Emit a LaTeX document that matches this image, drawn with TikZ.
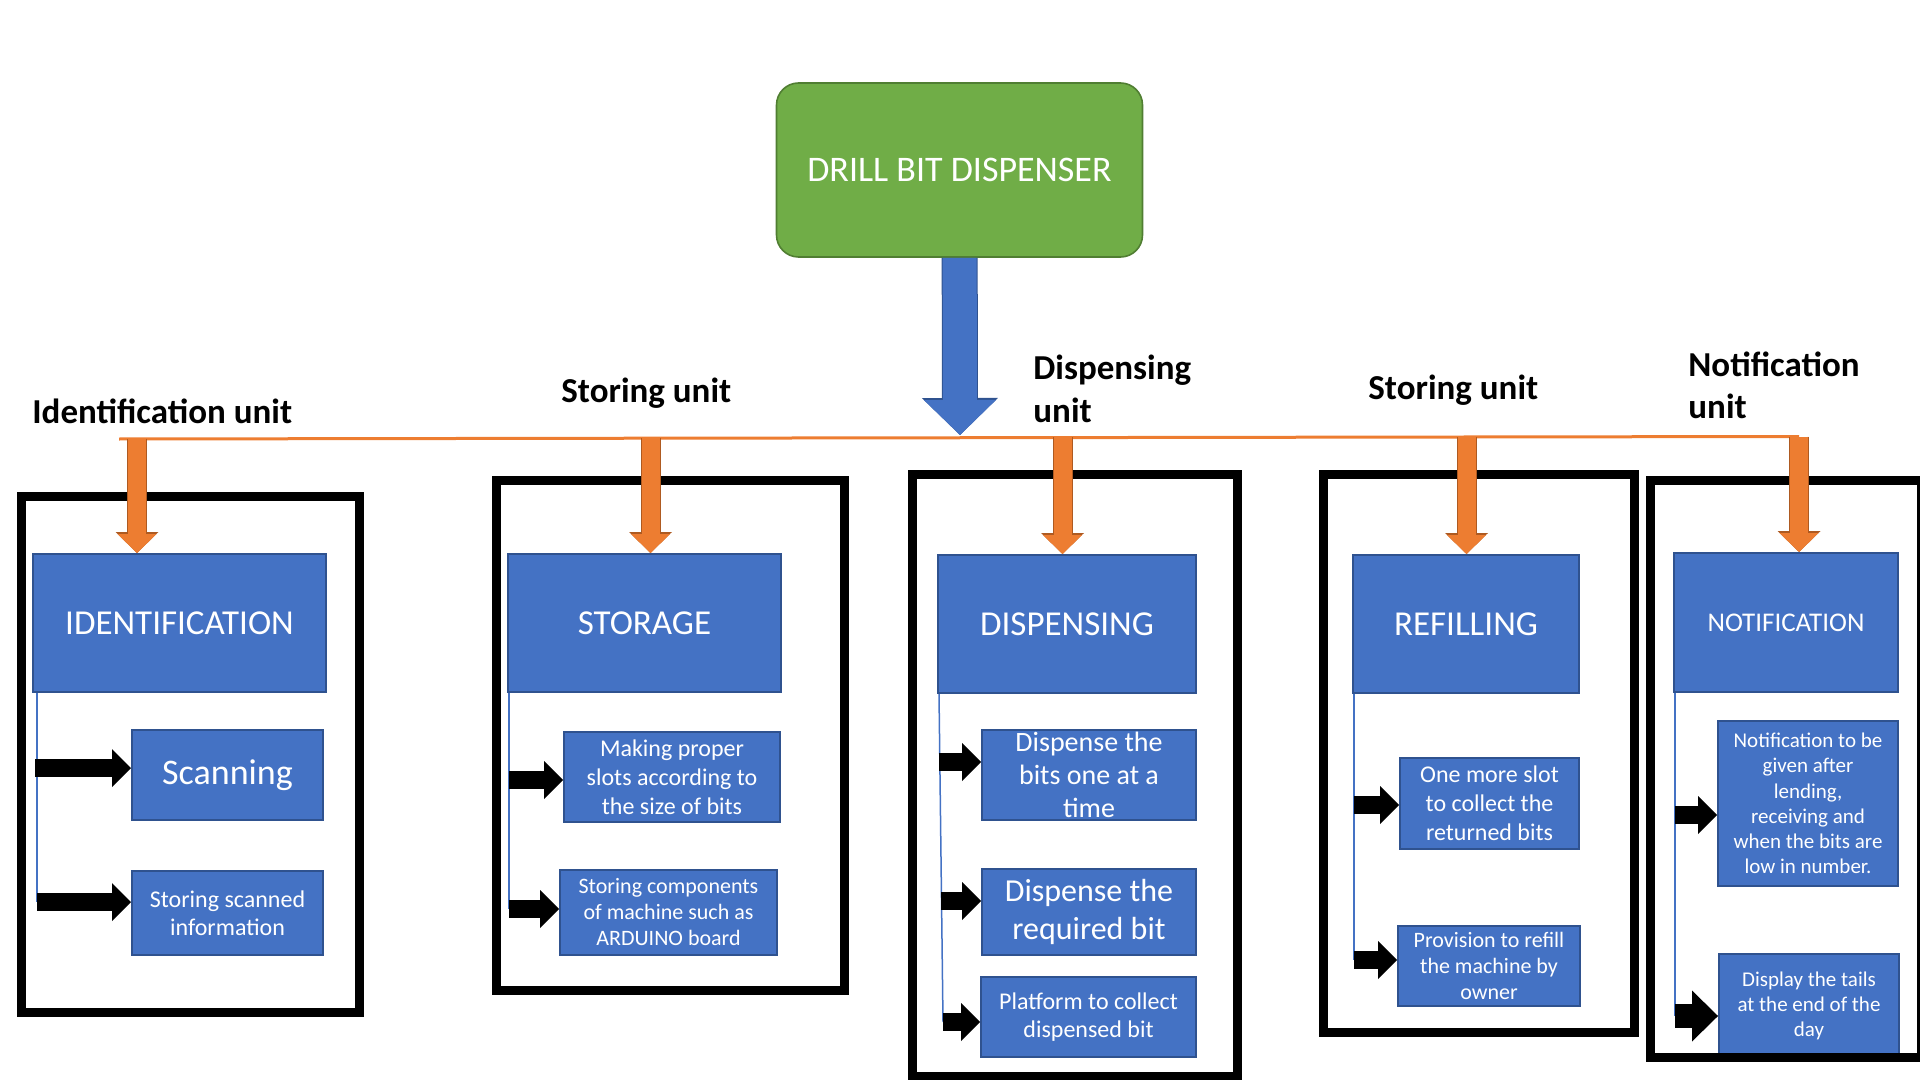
\documentclass[tikz,border=0pt]{standalone}
\usepackage{fontspec}
\setmainfont{Carlito}
\usetikzlibrary{arrows.meta,calc}

\definecolor{boxblue}{HTML}{4472C4}
\definecolor{boxedge}{HTML}{2F528F}
\definecolor{topgreen}{HTML}{70AD47}
\definecolor{topedge}{HTML}{507E32}
\definecolor{busorange}{HTML}{ED7D31}
\definecolor{busedge}{HTML}{AE5A21}

\tikzset{
	wh/.style 2 args={minimum width=#1*0.5pt, minimum height=#2*0.5pt},
	fs/.style 2 args={font=\fontsize{#1}{#2}\selectfont},
	unitbox/.style={draw=boxedge, fill=boxblue, line width=1pt, text=white, inner sep=0pt, align=center},
	hdrbox/.style={unitbox, fs={17.5}{21}},
	titlebox/.style={draw=topedge, fill=topgreen, line width=0.8pt, rounded corners=11pt, text=white, inner sep=0pt, fs={18}{22}},
	unitlabel/.style={font=\bfseries\fontsize{17.5}{21}\selectfont, inner sep=0pt, align=left, anchor=base west},
	unitframe/.style={draw=black, line width=4.5pt},
	stem/.style={draw=boxblue, line width=0.75pt},
	busline/.style={draw=busorange, line width=1.5pt},
	busarrow/.style={draw=busorange, line width=9pt, -{Triangle[width=19.5pt,length=9.5pt,line width=0pt]},
		preaction={draw=busedge, line width=10pt, -{Triangle[width=21.5pt,length=10.5pt,line width=0pt]}}},
	mainarrow/.style={draw=boxblue, line width=17pt, -{Triangle[width=36pt,length=17.5pt,line width=0pt]},
		preaction={draw=boxedge, line width=18pt, -{Triangle[width=38pt,length=18.5pt,line width=0pt]}}},
	pointer/.style={draw=black, line width=9pt, -{Triangle[width=19pt,length=9.5pt,line width=0pt]}},
	bigpointer/.style={draw=black, line width=12pt, -{Triangle[width=25.5pt,length=13pt,line width=0pt]}}
}

\begin{document}
\begin{tikzpicture}[x=0.5pt,y=-0.5pt]
	\useasboundingbox (0,0) rectangle (1920,1080);

	%title
	\node[titlebox, wh={366}{174}] (title) at (959.5,170) {DRILL BIT DISPENSER};

	%unit labels (base = last line)
	\node[unitlabel] (lident) at (32,423) {Identification unit};
	\node[unitlabel] (lstore) at (561,402) {Storing unit};
	\node[unitlabel] (ldisp) at (1033,422) {Dispensing\\unit};
	\node[unitlabel] (lrefill) at (1368,400) {Storing unit};
	\node[unitlabel] (lnotif) at (1688,418) {Notification\\unit};

	%unit headers
	\node[hdrbox, wh={293}{138}] (ident) at (179.5,623) {IDENTIFICATION};
	\node[hdrbox, wh={273}{138}] (storage) at (644.5,623) {STORAGE};
	\node[hdrbox, wh={258}{138}] (dispensing) at (1067,624) {DISPENSING};
	\node[hdrbox, wh={226}{138}] (refilling) at (1466,624) {REFILLING};
	\node[hdrbox, wh={224}{139}, fs={13.5}{16}] (notification) at (1786,622.5) {NOTIFICATION};

	%tasks
	\node[unitbox, wh={191}{90}, fs={18}{22}] (scan) at (227.5,775) {Scanning};
	\node[unitbox, wh={191}{84}, fs={12}{14}] (scanstore) at (227.5,913) {Storing scanned\\information};

	\node[unitbox, wh={216}{90}, fs={12}{14.5}] (slots) at (672,777) {Making proper\\slots according to\\the size of bits};
	\node[unitbox, wh={217}{85}, fs={11}{13}] (parts) at (668.5,912.5) {Storing components\\of machine such as\\ARDUINO board};

	\node[unitbox, wh={214}{90}, fs={14}{16.5}] (oneatatime) at (1089,775) {Dispense the\\bits one at a\\time};
	\node[unitbox, wh={214}{86}, fs={16}{19}] (required) at (1089,912) {Dispense the\\required bit};
	\node[unitbox, wh={215}{80}, fs={12}{14}] (platform) at (1088.5,1017) {Platform to collect\\dispensed bit};

	\node[unitbox, wh={179}{91}, fs={12}{14.5}] (extraslot) at (1489.5,803.5) {One more slot\\to collect the\\returned bits};
	\node[unitbox, wh={182}{80}, fs={11}{13}] (refill) at (1489,966) {Provision to refill\\the machine by\\owner};

	\node[unitbox, wh={180}{165}, fs={10.5}{12.6}] (alert) at (1808,803.5) {Notification to be\\given after\\lending,\\receiving and\\when the bits are\\low in number.};
	\node[unitbox, wh={180}{104}, fs={10.5}{12.5}] (tails) at (1809,1006) {Display the tails\\at the end of the\\day};

	%unit frames
	\draw[unitframe] (21.5,496.5) rectangle (359.5,1012.5);
	\draw[unitframe] (496.5,480.5) rectangle (844.5,990.5);
	\draw[unitframe] (912.5,474.5) rectangle (1237.5,1076);
	\draw[unitframe] (1323.5,474.5) rectangle (1634.5,1032.5);
	\draw[unitframe] (1650.5,480.5) rectangle (1921,1057.5);

	%bus
	\coordinate (busL) at (119,439);
	\coordinate (hub) at (960,435);
	\coordinate (b1) at (137,438.5);
	\coordinate (b2) at (650.5,437.5);
	\coordinate (b3) at (1062.5,437);
	\coordinate (b4) at (1466.5,436.5);
	\coordinate (b5) at (1799,436.5);
	\draw[busline] (busL) -- (b5);
	\draw[mainarrow] (title) -- (hub);

	\draw[busarrow] (b1) -- (b1 |- ident.north);
	\draw[busarrow] (b2) -- (b2 |- storage.north);
	\draw[busarrow] (b3) -- (b3 |- dispensing.north);
	\draw[busarrow] (b4) -- (b4 |- refilling.north);
	\draw[busarrow] (b5) -- (b5 |- notification.north);

	%pointers
	\coordinate (i1) at (35,768);
	\coordinate (i2) at (37,902);
	\draw[stem] (i2 |- ident.south) -- (i2);
	\draw[pointer] (i1) -- (i1 -| scan.west);
	\draw[pointer] (i2) -- (i2 -| scanstore.west);

	\coordinate (s1) at (509,780);
	\coordinate (s2) at (509,909);
	\draw[stem] (s2 |- storage.south) -- (s2);
	\draw[pointer] (s1) -- (s1 -| slots.west);
	\draw[pointer] (s2) -- (s2 -| parts.west);

	\coordinate (d1) at (939,762);
	\coordinate (d2) at (941,901);
	\coordinate (d3) at (943,1022);
	\draw[stem] (d1 |- dispensing.south) -- (d3);
	\draw[pointer] (d1) -- (d1 -| oneatatime.west);
	\draw[pointer] (d2) -- (d2 -| required.west);
	\draw[pointer] (d3) -- (d3 -| platform.west);

	\coordinate (r1) at (1354,805);
	\coordinate (r2) at (1354,960);
	\draw[stem] (r2 |- refilling.south) -- (r2);
	\draw[pointer] (r1) -- (r1 -| extraslot.west);
	\draw[pointer] (r2) -- (r2 -| refill.west);

	\coordinate (n1) at (1675,815);
	\coordinate (n2) at (1675,1016);
	\draw[stem] (n2 |- notification.south) -- (n2);
	\draw[pointer] (n1) -- (n1 -| alert.west);
	\draw[bigpointer] (n2) -- (n2 -| tails.west);
\end{tikzpicture}
\end{document}
